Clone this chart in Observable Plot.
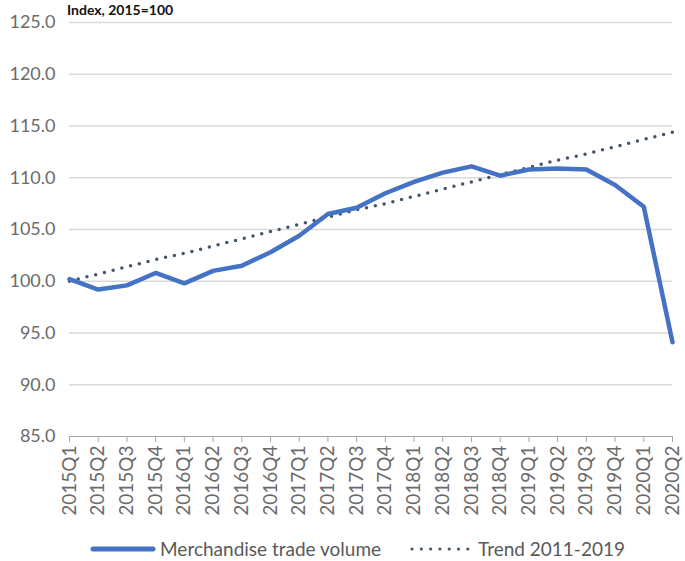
<!DOCTYPE html>
<html>
<head>
<meta charset="utf-8">
<script src="https://cdn.jsdelivr.net/npm/d3@7"></script>
<script src="https://cdn.jsdelivr.net/npm/@observablehq/plot@0.6"></script>
<style>
  html, body { margin: 0; padding: 0; background: #fff; }
  #wrap { position: relative; width: 685px; height: 561px; font-family: Lato, "Open Sans", sans-serif; }
  #title { position: absolute; left: 67px; top: 1px; font-size: 14px; font-weight: bold; color: #111; }
  #legend { position: absolute; top: 538px; left: 0; width: 685px; height: 22px; }
  #legend span { position: absolute; top: 0; font-size: 19px; color: #595959; line-height: 22px; }
  #legend svg { position: absolute; top: 0; }
</style>
</head>
<body>
<div id="wrap">
  <div id="chart"></div>
  <div id="title">Index, 2015=100</div>
  <div id="legend">
    <svg style="left:90px" width="66" height="22"><line x1="3" y1="11" x2="63" y2="11" stroke="#4472c4" stroke-width="5" stroke-linecap="round"/></svg>
    <span style="left:160px">Merchandise trade volume</span>
    <svg style="left:408px" width="66" height="22"><line x1="4" y1="11" x2="62" y2="11" stroke="#44546a" stroke-width="3.2" stroke-linecap="round" stroke-dasharray="0 9.3"/></svg>
    <span style="left:478px">Trend 2011-2019</span>
  </div>
</div>
<script>
const quarters = ["2015Q1","2015Q2","2015Q3","2015Q4","2016Q1","2016Q2","2016Q3","2016Q4",
  "2017Q1","2017Q2","2017Q3","2017Q4","2018Q1","2018Q2","2018Q3","2018Q4",
  "2019Q1","2019Q2","2019Q3","2019Q4","2020Q1","2020Q2"];
const tradeVolume = [100.2, 99.2, 99.6, 100.8, 99.8, 101.0, 101.5, 102.8, 104.4, 106.5, 107.1, 108.5,
  109.6, 110.5, 111.1, 110.2, 110.8, 110.9, 110.8, 109.3, 107.2, 94.1];
const trend = [100.0, 100.7, 101.4, 102.1, 102.7, 103.4, 104.1, 104.8, 105.5, 106.2, 106.9, 107.5,
  108.2, 108.9, 109.6, 110.3, 111.0, 111.7, 112.3, 113.0, 113.7, 114.4];
const yTicks = [85, 90, 95, 100, 105, 110, 115, 120, 125];

const volData = quarters.map((q, i) => ({q, v: tradeVolume[i]}));
const trendData = quarters.map((q, i) => ({q, v: trend[i]}));

const chart = Plot.plot({
  width: 685,
  height: 528,
  marginTop: 22,
  marginBottom: 92,
  marginLeft: 69,
  marginRight: 13,
  style: {fontFamily: "Lato, 'Open Sans', sans-serif", background: "#fff"},
  x: {type: "point", domain: quarters, padding: 0, inset: 0, insetLeft: 0, insetRight: 0, align: 0.5, round: false},
  y: {domain: [85, 125]},
  marks: [
    Plot.gridY(yTicks.filter(d => d > 85), {stroke: "#d9d9d9", strokeOpacity: 1, strokeWidth: 1.5}),
    Plot.axisY(yTicks, {tickSize: 0, tickPadding: 14, tickFormat: d3.format(".1f"), fontSize: 18, fill: "#6b6b6b", label: null}),
    Plot.ruleY([85], {stroke: "#a6a6a6", strokeWidth: 1.2}),
    Plot.axisX({tickSize: 6, stroke: "#a6a6a6", tickRotate: -90, tickPadding: 3, fontSize: 19, fill: "#6b6b6b", label: null}),
    Plot.line(trendData, {x: "q", y: "v", stroke: "#44546a", strokeWidth: 3.5, strokeLinecap: "round", strokeDasharray: "0 9"}),
    Plot.line(volData, {x: "q", y: "v", stroke: "#4472c4", strokeWidth: 4.5, strokeLinejoin: "round"})
  ]
});
document.getElementById("chart").appendChild(chart);
</script>
</body>
</html>
